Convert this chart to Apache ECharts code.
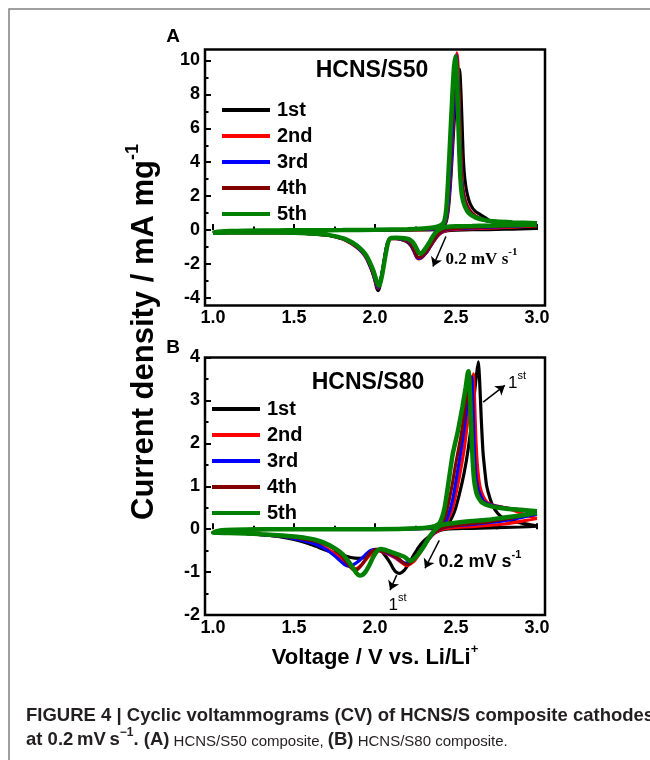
<!DOCTYPE html>
<html><head><meta charset="utf-8">
<script src="https://cdn.jsdelivr.net/npm/echarts@6/dist/echarts.min.js"></script>
<style>html,body{margin:0;padding:0;background:#fff}#c{width:650px;height:760px}</style>
</head><body><div id="c"></div>
<script>
// ---------- data (voltage V, current mA/mg) ----------
const SERIES_NAMES = ['1st', '2nd', '3rd', '4th', '5th'];
const COLORS = ['#000000', '#ff0000', '#0000ff', '#800000', '#008000'];
const X_TICKS = [1.0, 1.5, 2.0, 2.5, 3.0];
const X_MINOR = [1.25, 1.75, 2.25, 2.75];
const YA_TICKS = [-4, -2, 0, 2, 4, 6, 8, 10];
const YA_MINOR = [-3, -1, 1, 3, 5, 7, 9];
const YB_TICKS = [-2, -1, 0, 1, 2, 3, 4];
const YB_MINOR = [-1.5, -0.5, 0.5, 1.5, 2.5, 3.5];

// Panel A: HCNS/S50
const a1 = [[3.0,0.1],[2.9,0.07],[2.8,0.05],[2.7,0.03],[2.6,0.02],[2.5,0.0],[2.45,-0.03],[2.42,-0.1],[2.4,-0.22],[2.38,-0.42],[2.36,-0.7],[2.34,-1.0],[2.32,-1.3],[2.3,-1.5],[2.285,-1.63],[2.27,-1.68],[2.258,-1.6],[2.245,-1.35],[2.23,-1.05],[2.215,-0.85],[2.2,-0.72],[2.18,-0.62],[2.16,-0.55],[2.13,-0.5],[2.1,-0.5],[2.085,-0.6],[2.07,-1.05],[2.055,-1.9],[2.04,-2.8],[2.028,-3.4],[2.02,-3.57],[2.01,-3.4],[2.0,-3.0],[1.985,-2.5],[1.97,-2.1],[1.95,-1.65],[1.93,-1.35],[1.9,-1.05],[1.87,-0.85],[1.84,-0.68],[1.8,-0.5],[1.75,-0.37],[1.7,-0.28],[1.6,-0.21],[1.5,-0.17],[1.3,-0.15],[1.1,-0.15],[1.0,-0.17],
  [1.02,-0.12],[1.05,-0.09],[1.1,-0.07],[1.2,-0.05],[1.4,-0.03],[1.6,-0.02],[1.8,-0.01],[2.0,0.0],[2.2,0.0],[2.3,0.01],[2.38,0.04],[2.42,0.15],[2.44,0.5],[2.455,1.4],[2.47,3.3],[2.485,5.8],[2.5,8.0],[2.512,9.2],[2.522,9.5],[2.53,8.3],[2.537,6.5],[2.545,4.3],[2.555,3.0],[2.57,2.1],[2.59,1.5],[2.62,1.1],[2.67,0.8],[2.72,0.5],[2.8,0.3],[2.9,0.16],[3.0,0.1]];
const a2 = [[3.0,0.25],[2.9,0.2],[2.8,0.15],[2.7,0.11],[2.6,0.08],[2.5,0.04],[2.45,0.0],[2.42,-0.1],[2.4,-0.22],[2.38,-0.42],[2.36,-0.7],[2.34,-1.0],[2.32,-1.3],[2.3,-1.52],[2.285,-1.65],[2.27,-1.7],[2.258,-1.62],[2.245,-1.35],[2.23,-1.0],[2.215,-0.78],[2.2,-0.65],[2.18,-0.58],[2.16,-0.53],[2.13,-0.5],[2.1,-0.5],[2.085,-0.6],[2.07,-1.05],[2.055,-1.9],[2.04,-2.75],[2.028,-3.25],[2.02,-3.42],[2.01,-3.3],[2.0,-2.95],[1.985,-2.5],[1.97,-2.15],[1.95,-1.72],[1.93,-1.42],[1.9,-1.12],[1.87,-0.9],[1.84,-0.72],[1.8,-0.53],[1.75,-0.39],[1.7,-0.3],[1.6,-0.22],[1.5,-0.17],[1.3,-0.15],[1.1,-0.15],[1.0,-0.17],
  [1.02,-0.12],[1.05,-0.09],[1.1,-0.07],[1.2,-0.05],[1.4,-0.03],[1.6,-0.02],[1.8,-0.01],[2.0,0.0],[2.2,0.01],[2.3,0.03],[2.38,0.08],[2.42,0.22],[2.44,0.65],[2.455,1.7],[2.47,3.8],[2.485,6.8],[2.497,9.4],[2.505,10.45],[2.512,9.9],[2.52,7.6],[2.528,5.0],[2.538,3.1],[2.55,2.1],[2.57,1.45],[2.6,1.0],[2.64,0.72],[2.7,0.52],[2.8,0.4],[2.9,0.31],[3.0,0.25]];
const a3 = [[3.0,0.3],[2.9,0.25],[2.8,0.2],[2.7,0.16],[2.6,0.12],[2.5,0.08],[2.45,0.04],[2.42,-0.06],[2.4,-0.18],[2.38,-0.38],[2.36,-0.66],[2.34,-0.97],[2.32,-1.27],[2.3,-1.5],[2.285,-1.63],[2.27,-1.67],[2.258,-1.58],[2.245,-1.3],[2.23,-0.98],[2.215,-0.76],[2.2,-0.63],[2.18,-0.56],[2.16,-0.52],[2.13,-0.49],[2.1,-0.49],[2.085,-0.6],[2.07,-1.05],[2.055,-1.9],[2.04,-2.72],[2.028,-3.22],[2.022,-3.38],[2.012,-3.28],[2.0,-2.92],[1.985,-2.47],[1.97,-2.12],[1.95,-1.7],[1.93,-1.4],[1.9,-1.1],[1.87,-0.88],[1.84,-0.7],[1.8,-0.52],[1.75,-0.38],[1.7,-0.29],[1.6,-0.21],[1.5,-0.17],[1.3,-0.15],[1.1,-0.15],[1.0,-0.17],
  [1.02,-0.12],[1.05,-0.09],[1.1,-0.07],[1.2,-0.05],[1.4,-0.03],[1.6,-0.02],[1.8,-0.01],[2.0,0.01],[2.2,0.02],[2.3,0.05],[2.38,0.1],[2.42,0.25],[2.44,0.75],[2.455,1.9],[2.47,4.1],[2.484,7.0],[2.495,9.3],[2.502,10.3],[2.509,9.7],[2.517,7.4],[2.525,4.9],[2.535,3.0],[2.548,2.0],[2.568,1.38],[2.6,0.95],[2.64,0.7],[2.7,0.52],[2.8,0.42],[2.9,0.35],[3.0,0.3]];
const a4 = [[3.0,0.35],[2.9,0.28],[2.8,0.23],[2.7,0.19],[2.6,0.15],[2.5,0.1],[2.45,0.06],[2.42,-0.03],[2.4,-0.15],[2.38,-0.35],[2.36,-0.62],[2.34,-0.93],[2.32,-1.22],[2.3,-1.45],[2.285,-1.58],[2.272,-1.62],[2.26,-1.55],[2.247,-1.28],[2.232,-0.96],[2.217,-0.74],[2.2,-0.6],[2.18,-0.54],[2.16,-0.5],[2.13,-0.48],[2.1,-0.48],[2.086,-0.6],[2.072,-1.05],[2.057,-1.85],[2.042,-2.68],[2.03,-3.18],[2.023,-3.32],[2.013,-3.22],[2.001,-2.88],[1.986,-2.45],[1.971,-2.1],[1.951,-1.68],[1.931,-1.38],[1.901,-1.08],[1.871,-0.86],[1.841,-0.69],[1.8,-0.5],[1.75,-0.37],[1.7,-0.28],[1.6,-0.21],[1.5,-0.17],[1.3,-0.15],[1.1,-0.15],[1.0,-0.17],
  [1.02,-0.12],[1.05,-0.09],[1.1,-0.07],[1.2,-0.05],[1.4,-0.03],[1.6,-0.02],[1.8,-0.01],[2.0,0.01],[2.2,0.03],[2.3,0.06],[2.37,0.12],[2.41,0.25],[2.435,0.7],[2.45,1.9],[2.465,4.2],[2.479,7.1],[2.49,9.3],[2.5,10.25],[2.507,9.6],[2.515,7.3],[2.523,4.8],[2.533,3.0],[2.546,2.0],[2.566,1.38],[2.6,0.95],[2.64,0.72],[2.7,0.55],[2.8,0.45],[2.9,0.39],[3.0,0.35]];
const a5 = [[3.0,0.32],[2.9,0.3],[2.8,0.28],[2.7,0.26],[2.6,0.24],[2.5,0.22],[2.45,0.2],[2.42,0.15],[2.4,0.06],[2.385,-0.05],[2.37,-0.2],[2.35,-0.5],[2.33,-0.82],[2.31,-1.1],[2.295,-1.3],[2.282,-1.4],[2.27,-1.33],[2.258,-1.12],[2.245,-0.88],[2.23,-0.68],[2.21,-0.55],[2.19,-0.5],[2.16,-0.47],[2.13,-0.45],[2.1,-0.46],[2.088,-0.55],[2.075,-0.95],[2.06,-1.75],[2.045,-2.6],[2.033,-3.1],[2.025,-3.28],[2.015,-3.15],[2.003,-2.8],[1.99,-2.4],[1.975,-2.05],[1.955,-1.65],[1.935,-1.35],[1.905,-1.05],[1.875,-0.83],[1.845,-0.66],[1.8,-0.48],[1.75,-0.36],[1.7,-0.27],[1.6,-0.2],[1.5,-0.16],[1.3,-0.14],[1.1,-0.14],[1.0,-0.16],
  [1.02,-0.11],[1.05,-0.08],[1.1,-0.06],[1.2,-0.04],[1.4,-0.02],[1.6,-0.01],[1.8,0.0],[2.0,0.02],[2.2,0.05],[2.3,0.09],[2.36,0.15],[2.4,0.25],[2.425,0.45],[2.44,1.2],[2.452,3.0],[2.465,5.5],[2.478,8.0],[2.488,9.6],[2.497,10.25],[2.505,9.4],[2.512,7.2],[2.52,4.8],[2.528,3.0],[2.538,2.0],[2.555,1.4],[2.58,1.0],[2.62,0.75],[2.67,0.6],[2.75,0.5],[2.85,0.45],[3.0,0.4]];

// Panel B: HCNS/S80
const b1 = [[3.0,0.07],[2.9,0.05],[2.8,0.04],[2.7,0.03],[2.6,0.02],[2.5,0.01],[2.44,0.0],[2.4,-0.03],[2.36,-0.1],[2.33,-0.18],[2.3,-0.28],[2.27,-0.42],[2.24,-0.6],[2.21,-0.8],[2.18,-0.96],[2.15,-1.03],[2.13,-1.0],[2.11,-0.9],[2.09,-0.76],[2.06,-0.6],[2.04,-0.52],[2.01,-0.49],[1.98,-0.56],[1.95,-0.64],[1.9,-0.68],[1.85,-0.66],[1.8,-0.6],[1.72,-0.52],[1.65,-0.42],[1.6,-0.35],[1.5,-0.24],[1.4,-0.17],[1.3,-0.13],[1.2,-0.1],[1.1,-0.09],[1.0,-0.08],
  [1.03,-0.04],[1.08,-0.02],[1.2,-0.01],[1.5,0.0],[2.0,0.0],[2.3,0.01],[2.4,0.03],[2.45,0.12],[2.49,0.4],[2.52,0.8],[2.55,1.3],[2.575,1.85],[2.597,2.5],[2.615,3.2],[2.627,3.6],[2.638,3.9],[2.647,3.4],[2.656,2.6],[2.667,1.8],[2.68,1.3],[2.69,1.0],[2.71,0.72],[2.73,0.52],[2.76,0.36],[2.79,0.27],[2.85,0.19],[2.92,0.13],[3.0,0.08]];
const b2 = [[3.0,0.25],[2.9,0.18],[2.8,0.12],[2.7,0.09],[2.6,0.06],[2.5,0.04],[2.44,0.02],[2.4,-0.02],[2.36,-0.12],[2.33,-0.25],[2.3,-0.42],[2.27,-0.6],[2.24,-0.75],[2.21,-0.83],[2.196,-0.85],[2.18,-0.82],[2.15,-0.74],[2.12,-0.66],[2.09,-0.6],[2.06,-0.55],[2.03,-0.51],[2.0,-0.5],[1.98,-0.55],[1.95,-0.68],[1.92,-0.82],[1.895,-0.9],[1.877,-0.92],[1.86,-0.9],[1.83,-0.82],[1.8,-0.72],[1.75,-0.57],[1.7,-0.45],[1.65,-0.36],[1.6,-0.3],[1.5,-0.21],[1.4,-0.16],[1.3,-0.13],[1.2,-0.1],[1.1,-0.09],[1.0,-0.08],
  [1.03,-0.04],[1.08,-0.02],[1.2,-0.01],[1.5,0.0],[2.0,0.0],[2.3,0.02],[2.4,0.05],[2.44,0.15],[2.48,0.5],[2.52,1.2],[2.55,1.85],[2.575,2.6],[2.595,3.3],[2.607,3.62],[2.615,3.0],[2.622,2.2],[2.632,1.5],[2.648,1.0],[2.67,0.75],[2.7,0.6],[2.75,0.54],[2.8,0.5],[2.87,0.42],[2.94,0.32],[3.0,0.25]];
const b3 = [[3.0,0.35],[2.9,0.27],[2.8,0.2],[2.7,0.15],[2.6,0.11],[2.5,0.08],[2.44,0.05],[2.4,0.0],[2.36,-0.1],[2.33,-0.24],[2.3,-0.4],[2.27,-0.56],[2.24,-0.7],[2.21,-0.77],[2.186,-0.79],[2.16,-0.74],[2.13,-0.66],[2.1,-0.6],[2.06,-0.53],[2.03,-0.49],[2.0,-0.47],[1.97,-0.5],[1.94,-0.6],[1.9,-0.74],[1.86,-0.84],[1.835,-0.86],[1.81,-0.82],[1.78,-0.72],[1.75,-0.62],[1.7,-0.48],[1.65,-0.38],[1.6,-0.31],[1.5,-0.22],[1.4,-0.16],[1.3,-0.13],[1.2,-0.1],[1.1,-0.09],[1.0,-0.08],
  [1.03,-0.04],[1.08,-0.02],[1.2,-0.01],[1.5,0.0],[2.0,0.0],[2.3,0.02],[2.4,0.06],[2.44,0.2],[2.48,0.7],[2.51,1.35],[2.54,2.05],[2.565,2.75],[2.585,3.3],[2.597,3.55],[2.605,2.9],[2.612,2.0],[2.622,1.3],[2.64,0.9],[2.67,0.66],[2.72,0.56],[2.8,0.5],[2.9,0.44],[3.0,0.38]];
const b4 = [[3.0,0.38],[2.9,0.3],[2.8,0.23],[2.7,0.17],[2.6,0.13],[2.5,0.09],[2.44,0.06],[2.4,0.01],[2.36,-0.09],[2.33,-0.22],[2.3,-0.38],[2.27,-0.55],[2.24,-0.7],[2.215,-0.8],[2.2,-0.82],[2.18,-0.8],[2.15,-0.7],[2.12,-0.62],[2.08,-0.55],[2.04,-0.5],[2.01,-0.47],[1.98,-0.52],[1.95,-0.65],[1.92,-0.82],[1.895,-0.93],[1.877,-0.96],[1.86,-0.93],[1.835,-0.83],[1.8,-0.65],[1.76,-0.5],[1.72,-0.4],[1.65,-0.3],[1.6,-0.26],[1.5,-0.19],[1.4,-0.15],[1.3,-0.12],[1.2,-0.1],[1.1,-0.09],[1.0,-0.08],
  [1.03,-0.04],[1.08,-0.02],[1.2,-0.01],[1.5,0.0],[2.0,0.0],[2.3,0.03],[2.39,0.07],[2.43,0.25],[2.47,0.9],[2.5,1.55],[2.53,2.15],[2.56,2.9],[2.578,3.4],[2.585,3.58],[2.593,3.0],[2.6,2.1],[2.61,1.4],[2.627,0.95],[2.65,0.7],[2.7,0.56],[2.8,0.5],[2.9,0.45],[3.0,0.4]];
const b5 = [[3.0,0.38],[2.9,0.32],[2.8,0.27],[2.7,0.22],[2.6,0.19],[2.5,0.15],[2.44,0.12],[2.4,0.08],[2.37,-0.02],[2.34,-0.16],[2.31,-0.35],[2.28,-0.52],[2.25,-0.66],[2.23,-0.72],[2.216,-0.74],[2.2,-0.7],[2.18,-0.64],[2.15,-0.6],[2.12,-0.56],[2.09,-0.52],[2.06,-0.48],[2.035,-0.46],[2.015,-0.5],[1.99,-0.64],[1.965,-0.84],[1.94,-1.0],[1.92,-1.07],[1.905,-1.08],[1.885,-1.02],[1.86,-0.88],[1.83,-0.72],[1.8,-0.58],[1.75,-0.44],[1.7,-0.34],[1.65,-0.27],[1.6,-0.22],[1.5,-0.17],[1.4,-0.14],[1.3,-0.12],[1.2,-0.1],[1.1,-0.09],[1.0,-0.08],
  [1.03,-0.04],[1.08,-0.02],[1.2,-0.01],[1.5,0.0],[2.0,0.0],[2.3,0.03],[2.37,0.07],[2.4,0.15],[2.43,0.5],[2.46,1.25],[2.48,1.75],[2.51,2.25],[2.54,2.85],[2.56,3.3],[2.572,3.62],[2.578,3.68],[2.585,3.3],[2.593,2.5],[2.602,1.7],[2.612,1.15],[2.63,0.8],[2.66,0.62],[2.72,0.53],[2.8,0.48],[2.9,0.45],[3.0,0.42]];

const PANEL_A = [a1, a2, a3, a4, a5];
const PANEL_B = [b1, b2, b3, b4, b5];

// ---------- chart ----------
const FONT = '"Liberation Sans", Arial, Helvetica, sans-serif';
const chart = echarts.init(document.getElementById('c'), null, { renderer: 'canvas' });

function xAxisMain(gi, extra) {
  return Object.assign({
    type: 'value', gridIndex: gi, position: 'bottom', min: 0.95, max: 3.05,
    axisLine: { show: false },
    axisTick: { show: true, inside: true, length: 6, customValues: X_TICKS, lineStyle: { color: '#000', width: 2 } },
    axisLabel: { show: true, customValues: X_TICKS, formatter: v => v.toFixed(1), color: '#000', fontSize: 18, fontWeight: 'bold', fontFamily: FONT, margin: 4 },
    splitLine: { show: false }
  }, extra || {});
}
function xAxisMinor(gi) {
  return {
    type: 'value', gridIndex: gi, position: 'bottom', min: 0.95, max: 3.05,
    axisLine: { show: false },
    axisTick: { show: true, inside: true, length: 3.5, customValues: X_MINOR, lineStyle: { color: '#000', width: 2 } },
    axisLabel: { show: false }, splitLine: { show: false }
  };
}
function yAxisMain(gi, min, max, ticks) {
  return {
    type: 'value', gridIndex: gi, position: 'left', min: min, max: max,
    axisLine: { show: false },
    axisTick: { show: true, inside: true, length: 6, customValues: ticks, lineStyle: { color: '#000', width: 2 } },
    axisLabel: { show: true, customValues: ticks, formatter: v => String(v), color: '#000', fontSize: 18, fontWeight: 'bold', fontFamily: FONT, margin: 5 },
    splitLine: { show: false }
  };
}
function yAxisMinor(gi, min, max, ticks) {
  return {
    type: 'value', gridIndex: gi, position: 'left', min: min, max: max,
    axisLine: { show: false },
    axisTick: { show: true, inside: true, length: 3.5, customValues: ticks, lineStyle: { color: '#000', width: 2 } },
    axisLabel: { show: false }, splitLine: { show: false }
  };
}

const supRich = (size, fam, weight) => ({
  n: { fontSize: size, fontFamily: fam, fontWeight: weight, color: '#000', lineHeight: size + 4, verticalAlign: 'bottom' },
  s: { fontSize: Math.round(size * 0.62), fontFamily: fam, fontWeight: weight, color: '#000', lineHeight: Math.round(size * 0.62), verticalAlign: 'top' }
});

function arrowLine(from, to) {
  return [{ coord: from }, { coord: to }];
}

const series = [];
[PANEL_A, PANEL_B].forEach((panel, p) => {
  panel.forEach((d, i) => {
    const s = {
      name: SERIES_NAMES[i], type: 'line', xAxisIndex: p * 2, yAxisIndex: p * 2,
      data: d, showSymbol: false, symbol: 'none', smooth: 0.2,
      lineStyle: { color: COLORS[i], width: i === 4 ? 4.5 : 3.2 },
      itemStyle: { color: COLORS[i] },
      emphasis: { disabled: true }, silent: true, z: 2 + i
    };
    if (i === 0) {
      const serif = p === 0;
      const fam = serif ? '"Liberation Serif", "Times New Roman", serif' : FONT;
      s.markLine = {
        silent: true, symbol: ['none', 'arrow'], symbolSize: 9, animation: false,
        lineStyle: { color: '#000', width: 1.5, type: 'solid' }, label: { show: false },
        emphasis: { disabled: true },
        data: p === 0
          ? [arrowLine([2.438, -0.38], [2.358, -2.15])]
          : [arrowLine([2.397, -0.26], [2.309, -0.91]), arrowLine([2.668, 2.96], [2.802, 3.35]), arrowLine([2.134, -1.07], [2.093, -1.42])]
      };
      const pts = p === 0
        ? [{ coord: [2.432, -1.62], label: { formatter: '{n|0.2 mV s}{s|-1}', rich: supRich(17, fam, 'bold') } }]
        : [{ coord: [2.389, -0.72], label: { formatter: '{n|0.2 mV s}{s|-1}', rich: supRich(18, fam, 'bold') } },
           { coord: [2.818, 3.45], label: { formatter: '{n|1}{s|st}', rich: supRich(17, FONT, 'normal') } },
           { coord: [2.08, -1.72], label: { formatter: '{n|1}{s|st}', rich: supRich(17, FONT, 'normal') } }];
      s.markPoint = {
        silent: true, symbol: 'circle', symbolSize: 1, itemStyle: { color: 'rgba(0,0,0,0)' }, animation: false,
        label: { show: true, position: 'right', distance: 0 },
        data: pts
      };
    }
    series.push(s);
  });
});

const legendCommon = {
  data: SERIES_NAMES, orient: 'vertical', padding: 0, icon: 'rect', itemWidth: 48, itemHeight: 4, itemGap: 6,
  selectedMode: false,
  textStyle: { color: '#000', fontSize: 20, fontWeight: 'bold', fontFamily: FONT, lineHeight: 20, padding: [0, 0, 0, 2] }
};

const option = {
  animation: false,
  textStyle: { fontFamily: FONT },
  grid: [
    { left: 205, top: 49.5, width: 340, height: 256, show: true, borderColor: '#000', borderWidth: 2.5, backgroundColor: 'transparent' },
    { left: 205, top: 357.5, width: 340, height: 257.5, show: true, borderColor: '#000', borderWidth: 2.5, backgroundColor: 'transparent' }
  ],
  xAxis: [
    xAxisMain(0), xAxisMinor(0),
    xAxisMain(1, {
      name: '{t|Voltage / V vs. Li/Li}{s|+}', nameLocation: 'middle', nameGap: 28,
      nameTextStyle: { rich: {
        t: { fontSize: 22, fontWeight: 'bold', fontFamily: FONT, color: '#000', lineHeight: 26, verticalAlign: 'bottom' },
        s: { fontSize: 13, fontWeight: 'bold', fontFamily: FONT, color: '#000', lineHeight: 13, verticalAlign: 'top' } } }
    }),
    xAxisMinor(1)
  ],
  yAxis: [
    yAxisMain(0, -4.45, 10.65, YA_TICKS), yAxisMinor(0, -4.45, 10.65, YA_MINOR),
    yAxisMain(1, -2, 4, YB_TICKS), yAxisMinor(1, -2, 4, YB_MINOR)
  ],
  legend: [
    Object.assign({ left: 222, top: 100 }, legendCommon),
    Object.assign({ left: 212, top: 399 }, legendCommon)
  ],
  series: series,
  graphic: [
    { type: 'polyline', silent: true, shape: { points: [[9, 760], [9, 9], [650, 9]] }, style: { stroke: '#808080', lineWidth: 1.5, fill: null } },
    { type: 'text', silent: true, x: 173, y: 37, style: { text: 'A', fontSize: 19, fontWeight: 'bold', fontFamily: FONT, fill: '#000', align: 'center', verticalAlign: 'middle' } },
    { type: 'text', silent: true, x: 173, y: 348, style: { text: 'B', fontSize: 19, fontWeight: 'bold', fontFamily: FONT, fill: '#000', align: 'center', verticalAlign: 'middle' } },
    { type: 'text', silent: true, x: 372, y: 71, style: { text: 'HCNS/S50', fontSize: 23, fontWeight: 'bold', fontFamily: FONT, fill: '#000', align: 'center', verticalAlign: 'middle' } },
    { type: 'text', silent: true, x: 368, y: 383, style: { text: 'HCNS/S80', fontSize: 23, fontWeight: 'bold', fontFamily: FONT, fill: '#000', align: 'center', verticalAlign: 'middle' } },
    { type: 'text', silent: true, x: 142, y: 332, rotation: Math.PI / 2,
      style: { text: '{t|Current density / mA mg}{s|-1}', align: 'center', verticalAlign: 'middle',
        rich: {
          t: { fontSize: 31, fontWeight: 'bold', fontFamily: FONT, fill: '#000', lineHeight: 35, verticalAlign: 'bottom' },
          s: { fontSize: 18, fontWeight: 'bold', fontFamily: FONT, fill: '#000', lineHeight: 18, verticalAlign: 'top' } } } },
    { type: 'text', silent: true, x: 26, y: 716,
      style: { text: 'FIGURE 4 | Cyclic voltammograms (CV) of HCNS/S composite cathodes', fontSize: 18.5, fontWeight: 'bold', fontFamily: FONT, fill: '#231f20', align: 'left', verticalAlign: 'middle' } },
    { type: 'text', silent: true, x: 26, y: 738,
      style: { text: '{b|at 0.2\u2009mV\u2009s}{sp|\u22121}{b|. (A)}{r| HCNS/S50 composite, }{b|(B)}{r| HCNS/S80 composite.}', align: 'left', verticalAlign: 'middle',
        rich: {
          b: { fontSize: 18.5, fontWeight: 'bold', fontFamily: FONT, fill: '#231f20', lineHeight: 22, verticalAlign: 'bottom' },
          r: { fontSize: 15, fontWeight: 'normal', fontFamily: FONT, fill: '#231f20', lineHeight: 20, verticalAlign: 'bottom' },
          sp: { fontSize: 12, fontWeight: 'bold', fontFamily: FONT, fill: '#231f20', lineHeight: 12, verticalAlign: 'top' } } } }
  ]
};
chart.setOption(option);
</script></body></html>
